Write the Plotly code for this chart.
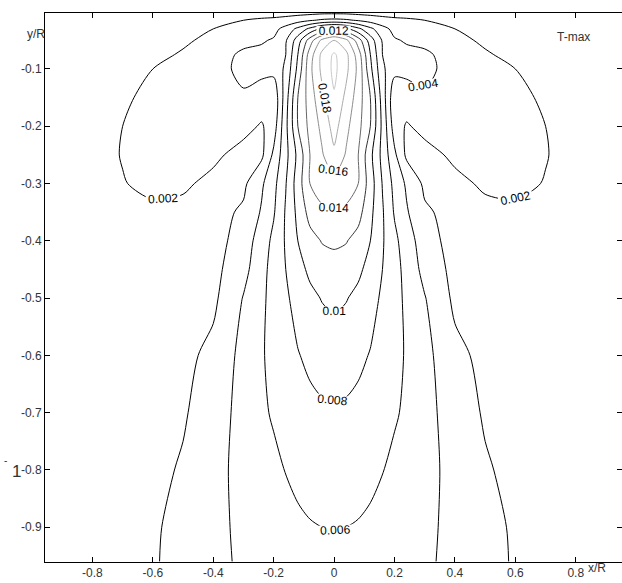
import plotly.graph_objects as go

# half-grid (x >= 0); the field is mirrored to x < 0
x_half = [0, 0.04, 0.08, 0.12, 0.16, 0.2, 0.24, 0.3, 0.4, 0.5, 0.6, 0.7, 0.8, 0.96]
y_rows = [0, -0.015, -0.03, -0.05, -0.075, -0.1, -0.15, -0.2, -0.25, -0.3,
          -0.35, -0.4, -0.45, -0.5, -0.6, -0.7, -0.8, -0.9, -0.96]

z_half = [
    [0.0012, 0.0012, 0.0011, 0.0011, 0.0011, 0.0011, 0.0010, 0.0010, 0.0008, 0.0006, 0.0005, 0.0005, 0.0004, 0.0003],
    [0.0045, 0.0043, 0.0038, 0.0032, 0.0027, 0.0024, 0.0023, 0.0020, 0.0014, 0.0010, 0.0008, 0.0006, 0.0005, 0.0004],
    [0.0115, 0.0105, 0.0085, 0.0065, 0.0047, 0.0034, 0.0030, 0.0027, 0.0020, 0.0014, 0.0010, 0.0008, 0.0006, 0.0005],
    [0.0180, 0.0165, 0.0130, 0.0090, 0.0058, 0.0042, 0.0038, 0.0034, 0.0025, 0.0017, 0.0012, 0.0009, 0.0007, 0.0005],
    [0.0203, 0.0185, 0.0150, 0.0100, 0.0060, 0.0046, 0.0045, 0.0044, 0.0030, 0.0022, 0.0015, 0.0011, 0.0008, 0.0006],
    [0.0205, 0.0185, 0.0155, 0.0105, 0.0064, 0.0046, 0.0045, 0.0044, 0.0034, 0.0027, 0.0020, 0.0013, 0.0009, 0.0006],
    [0.0198, 0.0175, 0.0150, 0.0120, 0.0071, 0.0025, 0.0031, 0.0038, 0.0037, 0.0032, 0.0025, 0.0017, 0.0011, 0.0007],
    [0.0188, 0.0165, 0.0146, 0.0120, 0.0075, 0.0030, 0.0018, 0.0026, 0.0033, 0.0032, 0.0027, 0.0020, 0.0012, 0.0007],
    [0.0176, 0.0158, 0.0140, 0.0105, 0.0074, 0.0044, 0.0016, 0.0013, 0.0024, 0.0030, 0.0029, 0.0021, 0.0012, 0.0008],
    [0.0153, 0.0150, 0.0140, 0.0110, 0.0079, 0.0054, 0.0037, 0.0016, 0.0015, 0.0023, 0.0025, 0.0019, 0.0012, 0.0008],
    [0.0139, 0.0136, 0.0127, 0.0105, 0.0082, 0.0058, 0.0042, 0.0023, 0.0013, 0.0015, 0.0016, 0.0011, 0.0007, 0.0005],
    [0.0123, 0.0121, 0.0113, 0.0100, 0.0082, 0.0065, 0.0049, 0.0030, 0.0011, 0.0010, 0.0008, 0.0007, 0.0006, 0.0005],
    [0.0113, 0.0111, 0.0104, 0.0093, 0.0080, 0.0068, 0.0053, 0.0034, 0.0014, 0.0011, 0.0009, 0.0007, 0.0006, 0.0005],
    [0.0104, 0.0101, 0.0095, 0.0087, 0.0077, 0.0067, 0.0056, 0.0041, 0.0016, 0.0012, 0.0009, 0.0008, 0.0006, 0.0005],
    [0.0089, 0.0088, 0.0084, 0.0079, 0.0073, 0.0066, 0.0058, 0.0046, 0.0025, 0.0015, 0.0011, 0.0009, 0.0007, 0.0005],
    [0.0078, 0.0077, 0.0075, 0.0071, 0.0067, 0.0062, 0.0057, 0.0047, 0.0030, 0.0018, 0.0013, 0.0010, 0.0008, 0.0006],
    [0.0069, 0.0068, 0.0066, 0.0064, 0.00605, 0.0056, 0.0052, 0.0046, 0.0034, 0.0022, 0.0015, 0.0011, 0.0009, 0.0006],
    [0.0061, 0.0060, 0.0059, 0.0057, 0.0055, 0.0052, 0.0049, 0.0044, 0.0035, 0.0026, 0.00175, 0.0013, 0.0010, 0.0007],
    [0.0054, 0.0054, 0.0053, 0.0052, 0.0051, 0.0049, 0.0047, 0.0043, 0.0035, 0.0027, 0.0018, 0.0013, 0.0010, 0.0007],
]

x_ticks = [-0.8, -0.6, -0.4, -0.2, 0, 0.2, 0.4, 0.6, 0.8]
x_tick_text = ["-0.8", "-0.6", "-0.4", "-0.2", "0", "0.2", "0.4", "0.6", "0.8"]
y_ticks = [-0.1, -0.2, -0.3, -0.4, -0.5, -0.6, -0.7, -0.8, -0.9]
y_tick_text = ["-0.1", "-0.2", "-0.3", "-0.4", "-0.5", "-0.6", "-0.7", "-0.8", "-0.9"]

# build the full symmetric table
x_full = [-v for v in reversed(x_half[1:])] + x_half
z_full = [list(reversed(r[1:])) + r for r in z_half]

FONT = "Liberation Sans, Arial, sans-serif"

fig = go.Figure()
fig.add_trace(go.Contour(
    x=x_full, y=y_rows, z=z_full,
    contours=dict(start=0.002, end=0.02, size=0.002, coloring="lines",
                  showlabels=True,
                  labelfont=dict(size=12, color="black", family=FONT)),
    contours_labelformat=".3~f",
    line=dict(width=1, smoothing=0.8),
    colorscale=[[0, "#000000"], [0.45, "#000000"], [0.7, "#777777"], [1, "#c8c8c8"]],
    zmin=0.002, zmax=0.02, zauto=False,
    showscale=False, hoverinfo="skip",
))

axis_common = dict(showline=True, linecolor="black", linewidth=1, mirror="ticks",
                   ticks="inside", ticklen=5, tickcolor="black", showgrid=False,
                   zeroline=False, tickfont=dict(size=12, color="#333333", family=FONT))

fig.update_xaxes(range=[-0.957, 0.953], tickvals=x_ticks, ticktext=x_tick_text, **axis_common)
fig.update_yaxes(range=[-0.9606, -0.0023], tickvals=y_ticks, ticktext=y_tick_text, **axis_common)

ann_font = dict(size=12, color="#333333", family=FONT)
fig.update_layout(
    width=622, height=583,
    margin=dict(l=45, r=0, t=13, b=21),
    paper_bgcolor="white", plot_bgcolor="white",
    showlegend=False,
    annotations=[
        dict(text="y/R", x=-0.035, y=0.978, xref="paper", yref="paper", showarrow=False, font=ann_font),
        dict(text="x/R", x=0.976, y=-0.027, xref="paper", yref="paper", showarrow=False, font=ann_font),
        dict(text="T-max", x=0.948, y=0.973, xref="paper", yref="paper", showarrow=False, font=ann_font),
        dict(text="1", x=-0.061, y=0.144, xref="paper", yref="paper", showarrow=False,
             font=dict(size=17, color="#333333", family=FONT)),
        dict(text="-", x=-0.074, y=0.171, xref="paper", yref="paper", showarrow=False,
             font=dict(size=10, color="#333333", family=FONT)),
    ],
)

fig.write_html("out.html")
